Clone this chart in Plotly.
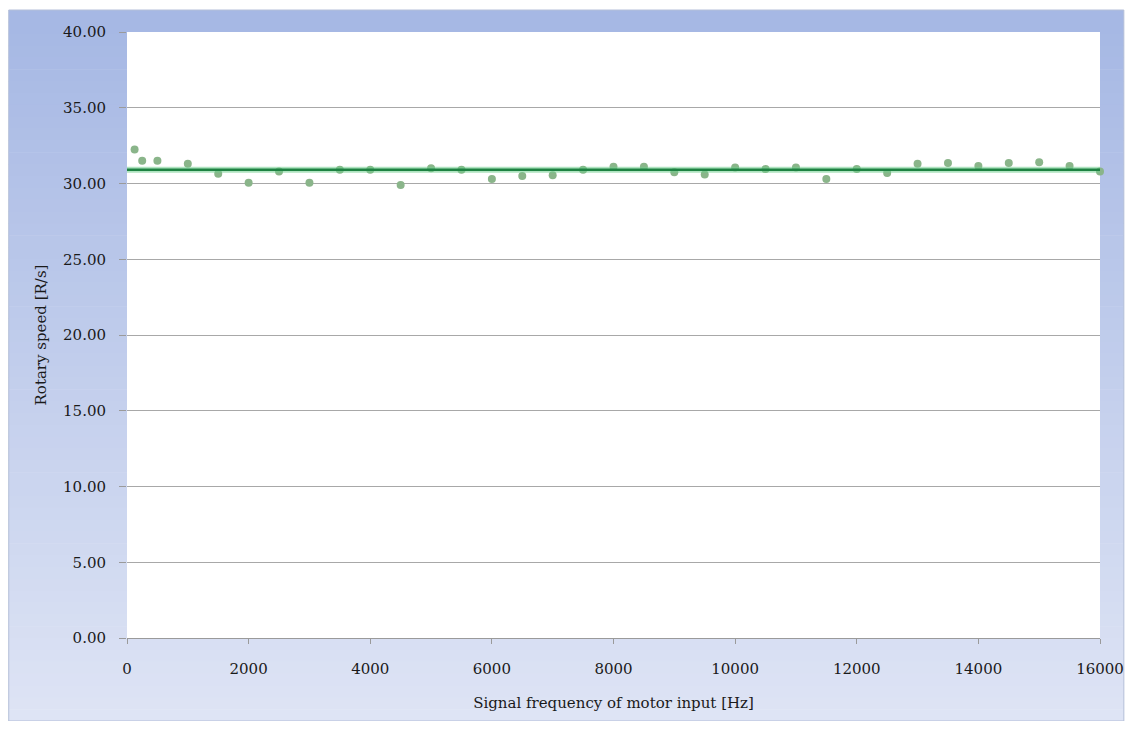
import numpy as np
import plotly.graph_objects as go

freq_hz = [125, 250, 500, 1000, 1500, 2000, 2500, 3000, 3500, 4000, 4500, 5000,
           5500, 6000, 6500, 7000, 7500, 8000, 8500, 9000, 9500, 10000, 10500,
           11000, 11500, 12000, 12500, 13000, 13500, 14000, 14500, 15000, 15500, 16000]
speed_rps = [32.25, 31.5, 31.5, 31.3, 30.65, 30.05, 30.8, 30.05, 30.9, 30.9, 29.9, 31.0,
             30.9, 30.3, 30.5, 30.55, 30.9, 31.1, 31.1, 30.75, 30.6, 31.05, 30.95,
             31.05, 30.3, 30.95, 30.7, 31.3, 31.35, 31.15, 31.35, 31.4, 31.15, 30.8]
x_ticks = [0, 2000, 4000, 6000, 8000, 10000, 12000, 14000, 16000]
y_ticks = [0, 5, 10, 15, 20, 25, 30, 35, 40]

# average line of the measured speed
mean_speed = float(np.mean(speed_rps))
trend_x = [0, 16000]
trend_y = [mean_speed, mean_speed]

fig = go.Figure()
fig.add_trace(go.Scatter(x=freq_hz, y=speed_rps, mode="markers",
                         marker=dict(symbol="circle", size=8, color="#8ab58a",
                                     line=dict(width=0)),
                         showlegend=False, cliponaxis=False))
fig.add_trace(go.Scatter(x=trend_x, y=trend_y, mode="lines",
                         line=dict(color="rgba(110,205,140,0.55)", width=6),
                         showlegend=False, hoverinfo="skip"))
fig.add_trace(go.Scatter(x=trend_x, y=trend_y, mode="lines",
                         line=dict(color="#1e8242", width=2.5),
                         showlegend=False))

# the page body has an 8px margin, so the figure starts at page (8, 8)
W, H = 1128, 713
L, R, T, B = 119, 1098, 24, 630
pw, ph = R - L, B - T
fx0, fx1 = (0 - L) / pw, (1122 - L) / pw
fy_top, fy_bot = (B - 2) / ph, (B - 713) / ph
shapes = []
n = 60
c0 = np.array([166, 184, 228])
c1 = np.array([222, 228, 245])
for i in range(n):
    t = i / (n - 1)
    c = (c0 + (c1 - c0) * t).astype(int)
    y_hi = fy_top + (fy_bot - fy_top) * i / n
    y_lo = fy_top + (fy_bot - fy_top) * (i + 1) / n
    shapes.append(dict(type="rect", xref="paper", yref="paper", x0=fx0, x1=fx1,
                       y0=y_lo - 0.001, y1=y_hi, layer="below",
                       fillcolor=f"rgb({c[0]},{c[1]},{c[2]})", line=dict(width=0)))
shapes.append(dict(type="rect", xref="paper", yref="paper", x0=fx0, x1=fx1,
                   y0=fy_bot, y1=fy_top, layer="below",
                   fillcolor="rgba(0,0,0,0)", line=dict(width=1, color="#b4bfd8")))
shapes.append(dict(type="rect", xref="paper", yref="paper", x0=0, x1=1, y0=0, y1=1,
                   layer="below", fillcolor="white", line=dict(width=0)))

font_family = "DejaVu Serif"
fig.update_layout(
    width=W, height=H,
    margin=dict(l=L, r=W - R, t=T, b=H - B),
    paper_bgcolor="white", plot_bgcolor="white",
    shapes=shapes,
    font=dict(family=font_family, color="#1a1a1a"),
    xaxis=dict(range=[0, 16000], tickvals=x_ticks, ticktext=[str(v) for v in x_ticks],
               showgrid=False, zeroline=False, showline=True, linecolor="#9a9a9a",
               linewidth=1, ticks="outside", ticklen=5, tickcolor="#9a9a9a",
               tickfont=dict(size=15, family=font_family, color="#1a1a1a"),
               ticklabelstandoff=12, ticklabeloverflow="allow",
               title=dict(text="Signal frequency of motor input [Hz]",
                          font=dict(size=15, family=font_family, color="#1a1a1a"),
                          standoff=20)),
    yaxis=dict(range=[0, 40], tickvals=y_ticks, ticktext=[f"{v:.2f}" for v in y_ticks],
               showgrid=True, gridcolor="#a8a8a8", gridwidth=1, zeroline=False,
               showline=False, ticks="outside", ticklen=7, tickcolor="#9a9a9a",
               tickfont=dict(size=15, family=font_family, color="#1a1a1a"),
               ticklabelstandoff=10,
               title=dict(text="Rotary speed [R/s]",
                          font=dict(size=15, family=font_family, color="#1a1a1a"),
                          standoff=12)),
)

fig.write_html("out.html")
